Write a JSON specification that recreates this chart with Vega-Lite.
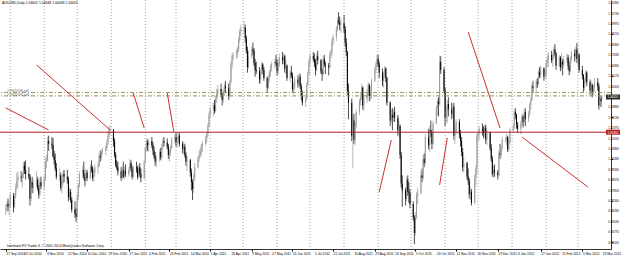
{
"$schema":"https://vega.github.io/schema/vega-lite/v6.json",
"width":611,"height":249,
"autosize":{"type":"none"},
"padding":{"left":0,"top":0,"right":14,"bottom":7},
"background":"white",
"config":{"view":{"stroke":null},"font":"Liberation Sans",
 "axis":{"labelOverlap":false,"labelFlush":false,"labelBound":false,"grid":false,"labelFont":"Liberation Sans","labelColor":"black","tickColor":"black","domainColor":"black","domainWidth":0.8},
 "axisX":{"labelFontSize":3.3,"labelAlign":"left","labelPadding":1,"tickSize":2},
 "axisY":{"labelFontSize":2.95,"labelPadding":0.5,"tickSize":1.5}},
"title":{"text":"AUDUSD,Daily  1.04602 1.04648 1.04448 1.04620","anchor":"start","frame":"group","orient":"top","offset":-5,"dx":2,"fontSize":3.4,"fontWeight":"normal","font":"Liberation Sans","color":"black"},
"datasets":{
"months":[{"d":"2010-10-01"},{"d":"2010-11-01"},{"d":"2010-12-01"},{"d":"2011-01-01"},{"d":"2011-02-01"},{"d":"2011-03-01"},{"d":"2011-04-01"},{"d":"2011-05-01"},{"d":"2011-06-01"},{"d":"2011-07-01"},{"d":"2011-08-01"},{"d":"2011-09-01"},{"d":"2011-10-01"},{"d":"2011-11-01"},{"d":"2011-12-01"},{"d":"2012-01-01"},{"d":"2012-02-01"},{"d":"2012-03-01"}],
"xticks":[{"d":"2010-09-27","label":"27 Sep 2010"},{"d":"2010-10-13","label":"13 Oct 2010"},{"d":"2010-11-03","label":"3 Nov 2010"},{"d":"2010-11-22","label":"22 Nov 2010"},{"d":"2010-12-10","label":"10 Dec 2010"},{"d":"2010-12-29","label":"29 Dec 2010"},{"d":"2011-01-17","label":"17 Jan 2011"},{"d":"2011-02-04","label":"4 Feb 2011"},{"d":"2011-02-23","label":"23 Feb 2011"},{"d":"2011-03-14","label":"14 Mar 2011"},{"d":"2011-04-01","label":"1 Apr 2011"},{"d":"2011-04-20","label":"20 Apr 2011"},{"d":"2011-05-09","label":"9 May 2011"},{"d":"2011-05-27","label":"27 May 2011"},{"d":"2011-06-15","label":"15 Jun 2011"},{"d":"2011-07-05","label":"5 Jul 2011"},{"d":"2011-07-22","label":"22 Jul 2011"},{"d":"2011-08-10","label":"10 Aug 2011"},{"d":"2011-08-29","label":"29 Aug 2011"},{"d":"2011-09-16","label":"16 Sep 2011"},{"d":"2011-10-05","label":"5 Oct 2011"},{"d":"2011-10-24","label":"24 Oct 2011"},{"d":"2011-11-11","label":"11 Nov 2011"},{"d":"2011-11-30","label":"30 Nov 2011"},{"d":"2011-12-19","label":"19 Dec 2011"},{"d":"2012-01-06","label":"6 Jan 2012"},{"d":"2012-01-27","label":"27 Jan 2012"},{"d":"2012-02-15","label":"15 Feb 2012"},{"d":"2012-03-05","label":"5 Mar 2012"},{"d":"2012-03-23","label":"23 Mar 2012"}],
"yticks":[{"p":1.1149},{"p":1.1073},{"p":1.0997},{"p":1.0921},{"p":1.0845},{"p":1.0769},{"p":1.0693},{"p":1.0617},{"p":1.0541},{"p":1.0389},{"p":1.0313},{"p":1.0237},{"p":1.0161},{"p":1.0085},{"p":1.0009},{"p":0.9933},{"p":0.9857},{"p":0.9781},{"p":0.9705},{"p":0.9629},{"p":0.9553},{"p":0.9477},{"p":0.9401}],
"levels":[{"kind":"support","p":1.0205,"label":""},{"kind":"order1","p":1.0495,"label":"#77670196 sell"},{"kind":"order2","p":1.0470,"label":"#77670195 sell"}],
"tags":[{"kind":"support","p":1.0205},{"kind":"bid","p":1.0462}],
"trend":[{"id":1,"d":"2010-09-27","p":1.0382},{"id":1,"d":"2010-11-05","p":1.0221},
{"id":2,"d":"2010-10-25","p":1.0696},{"id":2,"d":"2010-12-31","p":1.0221},
{"id":3,"d":"2011-01-21","p":1.0491},{"id":3,"d":"2011-01-31","p":1.0236},
{"id":4,"d":"2011-02-21","p":1.0491},{"id":4,"d":"2011-02-27","p":1.0207},
{"id":5,"d":"2011-09-02","p":0.9768},{"id":5,"d":"2011-09-13","p":1.0148},
{"id":6,"d":"2011-10-27","p":0.9820},{"id":6,"d":"2011-11-03","p":1.0163},
{"id":7,"d":"2011-11-22","p":1.0937},{"id":7,"d":"2011-12-21","p":1.0236},
{"id":8,"d":"2012-01-10","p":1.0170},{"id":8,"d":"2012-03-10","p":0.9805}],
"ohlc":[
{"d":"2010-09-27","o":0.9640,"h":0.9680,"l":0.9600,"c":0.9650},
{"d":"2010-09-28","o":0.9650,"h":0.9700,"l":0.9620,"c":0.9680},
{"d":"2010-09-29","o":0.9680,"h":0.9720,"l":0.9630,"c":0.9660},
{"d":"2010-09-30","o":0.9660,"h":0.9690,"l":0.9600,"c":0.9670},
{"d":"2010-10-01","o":0.9670,"h":0.9760,"l":0.9650,"c":0.9740},
{"d":"2010-10-04","o":0.9740,"h":0.9760,"l":0.9620,"c":0.9660},
{"d":"2010-10-05","o":0.9660,"h":0.9760,"l":0.9650,"c":0.9740},
{"d":"2010-10-06","o":0.9740,"h":0.9830,"l":0.9720,"c":0.9800},
{"d":"2010-10-07","o":0.9800,"h":0.9910,"l":0.9780,"c":0.9850},
{"d":"2010-10-08","o":0.9850,"h":0.9920,"l":0.9800,"c":0.9880},
{"d":"2010-10-11","o":0.9880,"h":0.9920,"l":0.9840,"c":0.9870},
{"d":"2010-10-12","o":0.9870,"h":0.9910,"l":0.9800,"c":0.9890},
{"d":"2010-10-13","o":0.9890,"h":0.9990,"l":0.9870,"c":0.9960},
{"d":"2010-10-14","o":0.9960,"h":0.9990,"l":0.9900,"c":0.9930},
{"d":"2010-10-15","o":0.9930,"h":1.0000,"l":0.9860,"c":0.9900},
{"d":"2010-10-18","o":0.9900,"h":0.9950,"l":0.9860,"c":0.9880},
{"d":"2010-10-19","o":0.9880,"h":0.9900,"l":0.9670,"c":0.9720},
{"d":"2010-10-20","o":0.9720,"h":0.9860,"l":0.9700,"c":0.9840},
{"d":"2010-10-21","o":0.9840,"h":0.9880,"l":0.9760,"c":0.9800},
{"d":"2010-10-22","o":0.9800,"h":0.9860,"l":0.9760,"c":0.9820},
{"d":"2010-10-25","o":0.9820,"h":0.9920,"l":0.9800,"c":0.9860},
{"d":"2010-10-26","o":0.9860,"h":0.9880,"l":0.9780,"c":0.9800},
{"d":"2010-10-27","o":0.9800,"h":0.9820,"l":0.9720,"c":0.9750},
{"d":"2010-10-28","o":0.9750,"h":0.9870,"l":0.9740,"c":0.9840},
{"d":"2010-10-29","o":0.9840,"h":0.9880,"l":0.9790,"c":0.9810},
{"d":"2010-11-01","o":0.9810,"h":0.9890,"l":0.9780,"c":0.9860},
{"d":"2010-11-02","o":0.9860,"h":1.0020,"l":0.9850,"c":0.9990},
{"d":"2010-11-03","o":0.9990,"h":1.0040,"l":0.9940,"c":1.0000},
{"d":"2010-11-04","o":1.0000,"h":1.0170,"l":0.9990,"c":1.0140},
{"d":"2010-11-05","o":1.0140,"h":1.0180,"l":1.0070,"c":1.0120},
{"d":"2010-11-08","o":1.0120,"h":1.0170,"l":1.0080,"c":1.0110},
{"d":"2010-11-09","o":1.0110,"h":1.0160,"l":1.0020,"c":1.0030},
{"d":"2010-11-10","o":1.0030,"h":1.0070,"l":0.9970,"c":1.0000},
{"d":"2010-11-11","o":1.0000,"h":1.0050,"l":0.9920,"c":0.9940},
{"d":"2010-11-12","o":0.9940,"h":0.9980,"l":0.9860,"c":0.9880},
{"d":"2010-11-15","o":0.9880,"h":0.9940,"l":0.9850,"c":0.9890},
{"d":"2010-11-16","o":0.9890,"h":0.9910,"l":0.9780,"c":0.9800},
{"d":"2010-11-17","o":0.9800,"h":0.9850,"l":0.9760,"c":0.9830},
{"d":"2010-11-18","o":0.9830,"h":0.9920,"l":0.9820,"c":0.9900},
{"d":"2010-11-19","o":0.9900,"h":0.9930,"l":0.9840,"c":0.9880},
{"d":"2010-11-22","o":0.9880,"h":0.9930,"l":0.9830,"c":0.9860},
{"d":"2010-11-23","o":0.9860,"h":0.9880,"l":0.9700,"c":0.9730},
{"d":"2010-11-24","o":0.9730,"h":0.9800,"l":0.9710,"c":0.9770},
{"d":"2010-11-25","o":0.9770,"h":0.9790,"l":0.9690,"c":0.9710},
{"d":"2010-11-26","o":0.9710,"h":0.9730,"l":0.9620,"c":0.9640},
{"d":"2010-11-29","o":0.9640,"h":0.9700,"l":0.9580,"c":0.9610},
{"d":"2010-11-30","o":0.9610,"h":0.9650,"l":0.9550,"c":0.9590},
{"d":"2010-12-01","o":0.9590,"h":0.9750,"l":0.9580,"c":0.9730},
{"d":"2010-12-02","o":0.9730,"h":0.9830,"l":0.9710,"c":0.9820},
{"d":"2010-12-03","o":0.9820,"h":0.9920,"l":0.9800,"c":0.9900},
{"d":"2010-12-06","o":0.9900,"h":0.9960,"l":0.9870,"c":0.9930},
{"d":"2010-12-07","o":0.9930,"h":0.9990,"l":0.9860,"c":0.9880},
{"d":"2010-12-08","o":0.9880,"h":0.9900,"l":0.9810,"c":0.9850},
{"d":"2010-12-09","o":0.9850,"h":0.9940,"l":0.9840,"c":0.9910},
{"d":"2010-12-10","o":0.9910,"h":0.9930,"l":0.9850,"c":0.9870},
{"d":"2010-12-13","o":0.9870,"h":0.9970,"l":0.9860,"c":0.9950},
{"d":"2010-12-14","o":0.9950,"h":1.0000,"l":0.9910,"c":0.9940},
{"d":"2010-12-15","o":0.9940,"h":0.9960,"l":0.9850,"c":0.9870},
{"d":"2010-12-16","o":0.9870,"h":0.9930,"l":0.9840,"c":0.9910},
{"d":"2010-12-17","o":0.9910,"h":0.9970,"l":0.9880,"c":0.9950},
{"d":"2010-12-20","o":0.9950,"h":0.9990,"l":0.9900,"c":0.9960},
{"d":"2010-12-21","o":0.9960,"h":1.0050,"l":0.9950,"c":1.0030},
{"d":"2010-12-22","o":1.0030,"h":1.0070,"l":0.9990,"c":1.0020},
{"d":"2010-12-23","o":1.0020,"h":1.0080,"l":1.0000,"c":1.0060},
{"d":"2010-12-24","o":1.0060,"h":1.0090,"l":1.0040,"c":1.0070},
{"d":"2010-12-27","o":1.0070,"h":1.0110,"l":1.0040,"c":1.0090},
{"d":"2010-12-28","o":1.0090,"h":1.0150,"l":1.0070,"c":1.0130},
{"d":"2010-12-29","o":1.0130,"h":1.0200,"l":1.0110,"c":1.0180},
{"d":"2010-12-30","o":1.0180,"h":1.0250,"l":1.0160,"c":1.0220},
{"d":"2010-12-31","o":1.0220,"h":1.0255,"l":1.0190,"c":1.0220},
{"d":"2011-01-03","o":1.0220,"h":1.0230,"l":1.0100,"c":1.0140},
{"d":"2011-01-04","o":1.0140,"h":1.0160,"l":1.0020,"c":1.0040},
{"d":"2011-01-05","o":1.0040,"h":1.0060,"l":0.9950,"c":0.9970},
{"d":"2011-01-06","o":0.9970,"h":1.0000,"l":0.9930,"c":0.9950},
{"d":"2011-01-07","o":0.9950,"h":0.9990,"l":0.9890,"c":0.9920},
{"d":"2011-01-10","o":0.9920,"h":0.9950,"l":0.9850,"c":0.9870},
{"d":"2011-01-11","o":0.9870,"h":0.9960,"l":0.9860,"c":0.9930},
{"d":"2011-01-12","o":0.9930,"h":0.9990,"l":0.9870,"c":0.9880},
{"d":"2011-01-13","o":0.9880,"h":0.9950,"l":0.9860,"c":0.9920},
{"d":"2011-01-14","o":0.9920,"h":0.9970,"l":0.9880,"c":0.9900},
{"d":"2011-01-17","o":0.9900,"h":0.9950,"l":0.9880,"c":0.9930},
{"d":"2011-01-18","o":0.9930,"h":1.0010,"l":0.9910,"c":0.9980},
{"d":"2011-01-19","o":0.9980,"h":1.0000,"l":0.9920,"c":0.9940},
{"d":"2011-01-20","o":0.9940,"h":0.9960,"l":0.9860,"c":0.9880},
{"d":"2011-01-21","o":0.9880,"h":0.9960,"l":0.9870,"c":0.9950},
{"d":"2011-01-24","o":0.9950,"h":0.9990,"l":0.9910,"c":0.9940},
{"d":"2011-01-25","o":0.9940,"h":0.9960,"l":0.9860,"c":0.9880},
{"d":"2011-01-26","o":0.9880,"h":0.9970,"l":0.9870,"c":0.9950},
{"d":"2011-01-27","o":0.9950,"h":0.9980,"l":0.9880,"c":0.9900},
{"d":"2011-01-28","o":0.9900,"h":0.9940,"l":0.9840,"c":0.9870},
{"d":"2011-01-31","o":0.9870,"h":1.0000,"l":0.9860,"c":0.9990},
{"d":"2011-02-01","o":0.9990,"h":1.0100,"l":0.9980,"c":1.0090},
{"d":"2011-02-02","o":1.0090,"h":1.0160,"l":1.0060,"c":1.0130},
{"d":"2011-02-03","o":1.0130,"h":1.0150,"l":1.0070,"c":1.0110},
{"d":"2011-02-04","o":1.0110,"h":1.0160,"l":1.0060,"c":1.0140},
{"d":"2011-02-07","o":1.0140,"h":1.0170,"l":1.0090,"c":1.0110},
{"d":"2011-02-08","o":1.0110,"h":1.0130,"l":1.0040,"c":1.0070},
{"d":"2011-02-09","o":1.0070,"h":1.0100,"l":1.0010,"c":1.0030},
{"d":"2011-02-10","o":1.0030,"h":1.0060,"l":0.9960,"c":0.9990},
{"d":"2011-02-11","o":0.9990,"h":1.0040,"l":0.9950,"c":1.0010},
{"d":"2011-02-14","o":1.0010,"h":1.0080,"l":0.9990,"c":1.0060},
{"d":"2011-02-15","o":1.0060,"h":1.0090,"l":1.0000,"c":1.0020},
{"d":"2011-02-16","o":1.0020,"h":1.0120,"l":1.0010,"c":1.0100},
{"d":"2011-02-17","o":1.0100,"h":1.0160,"l":1.0080,"c":1.0140},
{"d":"2011-02-18","o":1.0140,"h":1.0170,"l":1.0100,"c":1.0130},
{"d":"2011-02-21","o":1.0130,"h":1.0160,"l":1.0080,"c":1.0100},
{"d":"2011-02-22","o":1.0100,"h":1.0120,"l":1.0010,"c":1.0040},
{"d":"2011-02-23","o":1.0040,"h":1.0080,"l":0.9990,"c":1.0060},
{"d":"2011-02-24","o":1.0060,"h":1.0110,"l":1.0030,"c":1.0090},
{"d":"2011-02-25","o":1.0090,"h":1.0170,"l":1.0080,"c":1.0150},
{"d":"2011-02-28","o":1.0150,"h":1.0190,"l":1.0120,"c":1.0170},
{"d":"2011-03-01","o":1.0170,"h":1.0200,"l":1.0100,"c":1.0130},
{"d":"2011-03-02","o":1.0130,"h":1.0170,"l":1.0090,"c":1.0150},
{"d":"2011-03-03","o":1.0150,"h":1.0200,"l":1.0130,"c":1.0180},
{"d":"2011-03-04","o":1.0180,"h":1.0200,"l":1.0100,"c":1.0120},
{"d":"2011-03-07","o":1.0120,"h":1.0140,"l":1.0050,"c":1.0080},
{"d":"2011-03-08","o":1.0080,"h":1.0130,"l":1.0040,"c":1.0100},
{"d":"2011-03-09","o":1.0100,"h":1.0120,"l":1.0020,"c":1.0040},
{"d":"2011-03-10","o":1.0040,"h":1.0060,"l":0.9960,"c":0.9990},
{"d":"2011-03-11","o":0.9990,"h":1.0030,"l":0.9920,"c":1.0000},
{"d":"2011-03-14","o":1.0000,"h":1.0010,"l":0.9880,"c":0.9910},
{"d":"2011-03-15","o":0.9910,"h":0.9940,"l":0.9780,"c":0.9840},
{"d":"2011-03-16","o":0.9840,"h":0.9860,"l":0.9710,"c":0.9790},
{"d":"2011-03-17","o":0.9790,"h":0.9900,"l":0.9760,"c":0.9870},
{"d":"2011-03-18","o":0.9870,"h":0.9980,"l":0.9850,"c":0.9950},
{"d":"2011-03-21","o":0.9950,"h":1.0030,"l":0.9940,"c":1.0010},
{"d":"2011-03-22","o":1.0010,"h":1.0070,"l":0.9990,"c":1.0040},
{"d":"2011-03-23","o":1.0040,"h":1.0090,"l":1.0020,"c":1.0070},
{"d":"2011-03-24","o":1.0070,"h":1.0120,"l":1.0030,"c":1.0100},
{"d":"2011-03-25","o":1.0100,"h":1.0140,"l":1.0060,"c":1.0120},
{"d":"2011-03-28","o":1.0120,"h":1.0180,"l":1.0110,"c":1.0160},
{"d":"2011-03-29","o":1.0160,"h":1.0210,"l":1.0130,"c":1.0190},
{"d":"2011-03-30","o":1.0190,"h":1.0270,"l":1.0170,"c":1.0250},
{"d":"2011-03-31","o":1.0250,"h":1.0350,"l":1.0240,"c":1.0330},
{"d":"2011-04-01","o":1.0330,"h":1.0390,"l":1.0300,"c":1.0370},
{"d":"2011-04-04","o":1.0370,"h":1.0420,"l":1.0320,"c":1.0400},
{"d":"2011-04-05","o":1.0400,"h":1.0440,"l":1.0340,"c":1.0360},
{"d":"2011-04-06","o":1.0360,"h":1.0470,"l":1.0350,"c":1.0450},
{"d":"2011-04-07","o":1.0450,"h":1.0520,"l":1.0420,"c":1.0490},
{"d":"2011-04-08","o":1.0490,"h":1.0550,"l":1.0460,"c":1.0520},
{"d":"2011-04-11","o":1.0520,"h":1.0560,"l":1.0460,"c":1.0480},
{"d":"2011-04-12","o":1.0480,"h":1.0500,"l":1.0400,"c":1.0440},
{"d":"2011-04-13","o":1.0440,"h":1.0520,"l":1.0420,"c":1.0500},
{"d":"2011-04-14","o":1.0500,"h":1.0560,"l":1.0470,"c":1.0540},
{"d":"2011-04-15","o":1.0540,"h":1.0580,"l":1.0490,"c":1.0530},
{"d":"2011-04-18","o":1.0530,"h":1.0560,"l":1.0440,"c":1.0470},
{"d":"2011-04-19","o":1.0470,"h":1.0590,"l":1.0460,"c":1.0570},
{"d":"2011-04-20","o":1.0570,"h":1.0720,"l":1.0560,"c":1.0700},
{"d":"2011-04-21","o":1.0700,"h":1.0780,"l":1.0670,"c":1.0760},
{"d":"2011-04-22","o":1.0760,"h":1.0790,"l":1.0730,"c":1.0770},
{"d":"2011-04-25","o":1.0770,"h":1.0810,"l":1.0740,"c":1.0790},
{"d":"2011-04-26","o":1.0790,"h":1.0830,"l":1.0750,"c":1.0810},
{"d":"2011-04-27","o":1.0810,"h":1.0900,"l":1.0790,"c":1.0880},
{"d":"2011-04-28","o":1.0880,"h":1.0960,"l":1.0860,"c":1.0940},
{"d":"2011-04-29","o":1.0940,"h":1.0990,"l":1.0910,"c":1.0960},
{"d":"2011-05-02","o":1.0960,"h":1.1015,"l":1.0930,"c":1.0970},
{"d":"2011-05-03","o":1.0970,"h":1.0990,"l":1.0860,"c":1.0890},
{"d":"2011-05-04","o":1.0890,"h":1.0910,"l":1.0780,"c":1.0800},
{"d":"2011-05-05","o":1.0800,"h":1.0830,"l":1.0640,"c":1.0680},
{"d":"2011-05-06","o":1.0680,"h":1.0800,"l":1.0670,"c":1.0760},
{"d":"2011-05-09","o":1.0760,"h":1.0830,"l":1.0740,"c":1.0810},
{"d":"2011-05-10","o":1.0810,"h":1.0860,"l":1.0770,"c":1.0800},
{"d":"2011-05-11","o":1.0800,"h":1.0820,"l":1.0690,"c":1.0710},
{"d":"2011-05-12","o":1.0710,"h":1.0740,"l":1.0610,"c":1.0660},
{"d":"2011-05-13","o":1.0660,"h":1.0720,"l":1.0630,"c":1.0650},
{"d":"2011-05-16","o":1.0650,"h":1.0680,"l":1.0560,"c":1.0590},
{"d":"2011-05-17","o":1.0590,"h":1.0660,"l":1.0560,"c":1.0640},
{"d":"2011-05-18","o":1.0640,"h":1.0720,"l":1.0620,"c":1.0700},
{"d":"2011-05-19","o":1.0700,"h":1.0710,"l":1.0630,"c":1.0660},
{"d":"2011-05-20","o":1.0660,"h":1.0680,"l":1.0580,"c":1.0600},
{"d":"2011-05-23","o":1.0600,"h":1.0610,"l":1.0500,"c":1.0530},
{"d":"2011-05-24","o":1.0530,"h":1.0620,"l":1.0520,"c":1.0600},
{"d":"2011-05-25","o":1.0600,"h":1.0660,"l":1.0570,"c":1.0640},
{"d":"2011-05-26","o":1.0640,"h":1.0700,"l":1.0610,"c":1.0680},
{"d":"2011-05-27","o":1.0680,"h":1.0720,"l":1.0650,"c":1.0700},
{"d":"2011-05-30","o":1.0700,"h":1.0740,"l":1.0670,"c":1.0720},
{"d":"2011-05-31","o":1.0720,"h":1.0770,"l":1.0690,"c":1.0710},
{"d":"2011-06-01","o":1.0710,"h":1.0740,"l":1.0620,"c":1.0650},
{"d":"2011-06-02","o":1.0650,"h":1.0720,"l":1.0630,"c":1.0700},
{"d":"2011-06-03","o":1.0700,"h":1.0780,"l":1.0680,"c":1.0750},
{"d":"2011-06-06","o":1.0750,"h":1.0790,"l":1.0700,"c":1.0730},
{"d":"2011-06-07","o":1.0730,"h":1.0780,"l":1.0700,"c":1.0760},
{"d":"2011-06-08","o":1.0760,"h":1.0770,"l":1.0640,"c":1.0670},
{"d":"2011-06-09","o":1.0670,"h":1.0730,"l":1.0630,"c":1.0690},
{"d":"2011-06-10","o":1.0690,"h":1.0700,"l":1.0580,"c":1.0600},
{"d":"2011-06-13","o":1.0600,"h":1.0660,"l":1.0570,"c":1.0640},
{"d":"2011-06-14","o":1.0640,"h":1.0690,"l":1.0600,"c":1.0620},
{"d":"2011-06-15","o":1.0620,"h":1.0640,"l":1.0500,"c":1.0520},
{"d":"2011-06-16","o":1.0520,"h":1.0570,"l":1.0480,"c":1.0530},
{"d":"2011-06-17","o":1.0530,"h":1.0610,"l":1.0510,"c":1.0590},
{"d":"2011-06-20","o":1.0590,"h":1.0620,"l":1.0530,"c":1.0560},
{"d":"2011-06-21","o":1.0560,"h":1.0640,"l":1.0540,"c":1.0610},
{"d":"2011-06-22","o":1.0610,"h":1.0630,"l":1.0520,"c":1.0540},
{"d":"2011-06-23","o":1.0540,"h":1.0560,"l":1.0440,"c":1.0470},
{"d":"2011-06-24","o":1.0470,"h":1.0510,"l":1.0400,"c":1.0420},
{"d":"2011-06-27","o":1.0420,"h":1.0480,"l":1.0390,"c":1.0450},
{"d":"2011-06-28","o":1.0450,"h":1.0570,"l":1.0440,"c":1.0550},
{"d":"2011-06-29","o":1.0550,"h":1.0650,"l":1.0540,"c":1.0630},
{"d":"2011-06-30","o":1.0630,"h":1.0740,"l":1.0620,"c":1.0720},
{"d":"2011-07-01","o":1.0720,"h":1.0780,"l":1.0690,"c":1.0760},
{"d":"2011-07-04","o":1.0760,"h":1.0790,"l":1.0720,"c":1.0740},
{"d":"2011-07-05","o":1.0740,"h":1.0780,"l":1.0680,"c":1.0710},
{"d":"2011-07-06","o":1.0710,"h":1.0740,"l":1.0620,"c":1.0660},
{"d":"2011-07-07","o":1.0660,"h":1.0780,"l":1.0650,"c":1.0760},
{"d":"2011-07-08","o":1.0760,"h":1.0800,"l":1.0700,"c":1.0730},
{"d":"2011-07-11","o":1.0730,"h":1.0740,"l":1.0630,"c":1.0650},
{"d":"2011-07-12","o":1.0650,"h":1.0670,"l":1.0580,"c":1.0630},
{"d":"2011-07-13","o":1.0630,"h":1.0760,"l":1.0620,"c":1.0740},
{"d":"2011-07-14","o":1.0740,"h":1.0770,"l":1.0680,"c":1.0700},
{"d":"2011-07-15","o":1.0700,"h":1.0720,"l":1.0630,"c":1.0690},
{"d":"2011-07-18","o":1.0690,"h":1.0710,"l":1.0620,"c":1.0680},
{"d":"2011-07-19","o":1.0680,"h":1.0790,"l":1.0670,"c":1.0770},
{"d":"2011-07-20","o":1.0770,"h":1.0810,"l":1.0740,"c":1.0790},
{"d":"2011-07-21","o":1.0790,"h":1.0890,"l":1.0760,"c":1.0870},
{"d":"2011-07-22","o":1.0870,"h":1.0920,"l":1.0840,"c":1.0900},
{"d":"2011-07-25","o":1.0900,"h":1.0980,"l":1.0870,"c":1.0960},
{"d":"2011-07-26","o":1.0960,"h":1.1040,"l":1.0940,"c":1.1020},
{"d":"2011-07-27","o":1.1020,"h":1.1080,"l":1.0990,"c":1.1010},
{"d":"2011-07-28","o":1.1010,"h":1.1050,"l":1.0950,"c":1.0990},
{"d":"2011-07-29","o":1.0990,"h":1.1030,"l":1.0930,"c":1.1000},
{"d":"2011-08-01","o":1.1000,"h":1.1060,"l":1.0930,"c":1.0960},
{"d":"2011-08-02","o":1.0960,"h":1.0980,"l":1.0830,"c":1.0860},
{"d":"2011-08-03","o":1.0860,"h":1.0890,"l":1.0760,"c":1.0790},
{"d":"2011-08-04","o":1.0790,"h":1.0800,"l":1.0480,"c":1.0510},
{"d":"2011-08-05","o":1.0510,"h":1.0560,"l":1.0300,"c":1.0420},
{"d":"2011-08-08","o":1.0420,"h":1.0450,"l":1.0140,"c":1.0180},
{"d":"2011-08-09","o":1.0180,"h":1.0330,"l":0.9940,"c":1.0290},
{"d":"2011-08-10","o":1.0290,"h":1.0340,"l":1.0120,"c":1.0150},
{"d":"2011-08-11","o":1.0150,"h":1.0270,"l":1.0110,"c":1.0250},
{"d":"2011-08-12","o":1.0250,"h":1.0370,"l":1.0230,"c":1.0350},
{"d":"2011-08-15","o":1.0350,"h":1.0450,"l":1.0330,"c":1.0430},
{"d":"2011-08-16","o":1.0430,"h":1.0500,"l":1.0400,"c":1.0460},
{"d":"2011-08-17","o":1.0460,"h":1.0560,"l":1.0440,"c":1.0530},
{"d":"2011-08-18","o":1.0530,"h":1.0540,"l":1.0370,"c":1.0400},
{"d":"2011-08-19","o":1.0400,"h":1.0480,"l":1.0360,"c":1.0450},
{"d":"2011-08-22","o":1.0450,"h":1.0520,"l":1.0420,"c":1.0490},
{"d":"2011-08-23","o":1.0490,"h":1.0570,"l":1.0470,"c":1.0550},
{"d":"2011-08-24","o":1.0550,"h":1.0560,"l":1.0430,"c":1.0470},
{"d":"2011-08-25","o":1.0470,"h":1.0540,"l":1.0440,"c":1.0510},
{"d":"2011-08-26","o":1.0510,"h":1.0600,"l":1.0450,"c":1.0580},
{"d":"2011-08-29","o":1.0580,"h":1.0680,"l":1.0570,"c":1.0660},
{"d":"2011-08-30","o":1.0660,"h":1.0720,"l":1.0630,"c":1.0700},
{"d":"2011-08-31","o":1.0700,"h":1.0770,"l":1.0680,"c":1.0740},
{"d":"2011-09-01","o":1.0740,"h":1.0770,"l":1.0680,"c":1.0700},
{"d":"2011-09-02","o":1.0700,"h":1.0720,"l":1.0600,"c":1.0640},
{"d":"2011-09-05","o":1.0640,"h":1.0670,"l":1.0540,"c":1.0580},
{"d":"2011-09-06","o":1.0580,"h":1.0650,"l":1.0530,"c":1.0620},
{"d":"2011-09-07","o":1.0620,"h":1.0690,"l":1.0600,"c":1.0670},
{"d":"2011-09-08","o":1.0670,"h":1.0680,"l":1.0570,"c":1.0600},
{"d":"2011-09-09","o":1.0600,"h":1.0610,"l":1.0400,"c":1.0420},
{"d":"2011-09-12","o":1.0420,"h":1.0430,"l":1.0250,"c":1.0290},
{"d":"2011-09-13","o":1.0290,"h":1.0370,"l":1.0270,"c":1.0330},
{"d":"2011-09-14","o":1.0330,"h":1.0380,"l":1.0220,"c":1.0310},
{"d":"2011-09-15","o":1.0310,"h":1.0370,"l":1.0280,"c":1.0350},
{"d":"2011-09-16","o":1.0350,"h":1.0390,"l":1.0280,"c":1.0310},
{"d":"2011-09-19","o":1.0310,"h":1.0330,"l":1.0180,"c":1.0220},
{"d":"2011-09-20","o":1.0220,"h":1.0290,"l":1.0170,"c":1.0250},
{"d":"2011-09-21","o":1.0250,"h":1.0260,"l":1.0010,"c":1.0040},
{"d":"2011-09-22","o":1.0040,"h":1.0060,"l":0.9800,"c":0.9830},
{"d":"2011-09-23","o":0.9830,"h":0.9890,"l":0.9660,"c":0.9780},
{"d":"2011-09-26","o":0.9780,"h":0.9800,"l":0.9670,"c":0.9720},
{"d":"2011-09-27","o":0.9720,"h":0.9880,"l":0.9700,"c":0.9860},
{"d":"2011-09-28","o":0.9860,"h":0.9890,"l":0.9740,"c":0.9770},
{"d":"2011-09-29","o":0.9770,"h":0.9840,"l":0.9690,"c":0.9760},
{"d":"2011-09-30","o":0.9760,"h":0.9790,"l":0.9650,"c":0.9680},
{"d":"2011-10-03","o":0.9680,"h":0.9700,"l":0.9560,"c":0.9580},
{"d":"2011-10-04","o":0.9580,"h":0.9600,"l":0.9387,"c":0.9470},
{"d":"2011-10-05","o":0.9470,"h":0.9620,"l":0.9450,"c":0.9590},
{"d":"2011-10-06","o":0.9590,"h":0.9770,"l":0.9570,"c":0.9740},
{"d":"2011-10-07","o":0.9740,"h":0.9800,"l":0.9680,"c":0.9760},
{"d":"2011-10-10","o":0.9760,"h":0.9920,"l":0.9750,"c":0.9890},
{"d":"2011-10-11","o":0.9890,"h":0.9940,"l":0.9840,"c":0.9870},
{"d":"2011-10-12","o":0.9870,"h":1.0040,"l":0.9860,"c":1.0010},
{"d":"2011-10-13","o":1.0010,"h":1.0050,"l":0.9950,"c":0.9980},
{"d":"2011-10-14","o":0.9980,"h":1.0190,"l":0.9970,"c":1.0170},
{"d":"2011-10-17","o":1.0170,"h":1.0230,"l":1.0080,"c":1.0110},
{"d":"2011-10-18","o":1.0110,"h":1.0250,"l":1.0060,"c":1.0220},
{"d":"2011-10-19","o":1.0220,"h":1.0290,"l":1.0170,"c":1.0200},
{"d":"2011-10-20","o":1.0200,"h":1.0220,"l":1.0080,"c":1.0120},
{"d":"2011-10-21","o":1.0120,"h":1.0290,"l":1.0110,"c":1.0270},
{"d":"2011-10-24","o":1.0270,"h":1.0400,"l":1.0260,"c":1.0380},
{"d":"2011-10-25","o":1.0380,"h":1.0450,"l":1.0330,"c":1.0430},
{"d":"2011-10-26","o":1.0430,"h":1.0460,"l":1.0320,"c":1.0410},
{"d":"2011-10-27","o":1.0410,"h":1.0765,"l":1.0400,"c":1.0720},
{"d":"2011-10-28","o":1.0720,"h":1.0760,"l":1.0630,"c":1.0660},
{"d":"2011-10-31","o":1.0660,"h":1.0680,"l":1.0490,"c":1.0510},
{"d":"2011-11-01","o":1.0510,"h":1.0530,"l":1.0250,"c":1.0310},
{"d":"2011-11-02","o":1.0310,"h":1.0390,"l":1.0280,"c":1.0360},
{"d":"2011-11-03","o":1.0360,"h":1.0440,"l":1.0270,"c":1.0410},
{"d":"2011-11-04","o":1.0410,"h":1.0460,"l":1.0320,"c":1.0370},
{"d":"2011-11-07","o":1.0370,"h":1.0420,"l":1.0300,"c":1.0340},
{"d":"2011-11-08","o":1.0340,"h":1.0410,"l":1.0310,"c":1.0390},
{"d":"2011-11-09","o":1.0390,"h":1.0420,"l":1.0150,"c":1.0180},
{"d":"2011-11-10","o":1.0180,"h":1.0240,"l":1.0120,"c":1.0200},
{"d":"2011-11-11","o":1.0200,"h":1.0300,"l":1.0190,"c":1.0280},
{"d":"2011-11-14","o":1.0280,"h":1.0300,"l":1.0160,"c":1.0190},
{"d":"2011-11-15","o":1.0190,"h":1.0220,"l":1.0100,"c":1.0140},
{"d":"2011-11-16","o":1.0140,"h":1.0170,"l":1.0030,"c":1.0060},
{"d":"2011-11-17","o":1.0060,"h":1.0090,"l":0.9920,"c":0.9950},
{"d":"2011-11-18","o":0.9950,"h":1.0020,"l":0.9910,"c":0.9980},
{"d":"2011-11-21","o":0.9980,"h":0.9990,"l":0.9860,"c":0.9880},
{"d":"2011-11-22","o":0.9880,"h":0.9940,"l":0.9820,"c":0.9850},
{"d":"2011-11-23","o":0.9850,"h":0.9870,"l":0.9720,"c":0.9750},
{"d":"2011-11-24","o":0.9750,"h":0.9810,"l":0.9710,"c":0.9770},
{"d":"2011-11-25","o":0.9770,"h":0.9790,"l":0.9670,"c":0.9690},
{"d":"2011-11-28","o":0.9690,"h":0.9900,"l":0.9680,"c":0.9870},
{"d":"2011-11-29","o":0.9870,"h":0.9960,"l":0.9820,"c":0.9940},
{"d":"2011-11-30","o":0.9940,"h":1.0200,"l":0.9900,"c":1.0180},
{"d":"2011-12-01","o":1.0180,"h":1.0220,"l":1.0140,"c":1.0190},
{"d":"2011-12-02","o":1.0190,"h":1.0250,"l":1.0150,"c":1.0230},
{"d":"2011-12-05","o":1.0230,"h":1.0270,"l":1.0180,"c":1.0220},
{"d":"2011-12-06","o":1.0220,"h":1.0250,"l":1.0160,"c":1.0200},
{"d":"2011-12-07","o":1.0200,"h":1.0260,"l":1.0170,"c":1.0240},
{"d":"2011-12-08","o":1.0240,"h":1.0260,"l":1.0120,"c":1.0150},
{"d":"2011-12-09","o":1.0150,"h":1.0220,"l":1.0110,"c":1.0200},
{"d":"2011-12-12","o":1.0200,"h":1.0210,"l":1.0070,"c":1.0090},
{"d":"2011-12-13","o":1.0090,"h":1.0120,"l":0.9990,"c":1.0010},
{"d":"2011-12-14","o":1.0010,"h":1.0030,"l":0.9880,"c":0.9900},
{"d":"2011-12-15","o":0.9900,"h":0.9960,"l":0.9870,"c":0.9930},
{"d":"2011-12-16","o":0.9930,"h":0.9970,"l":0.9880,"c":0.9910},
{"d":"2011-12-19","o":0.9910,"h":0.9930,"l":0.9860,"c":0.9890},
{"d":"2011-12-20","o":0.9890,"h":1.0070,"l":0.9880,"c":1.0050},
{"d":"2011-12-21","o":1.0050,"h":1.0120,"l":1.0010,"c":1.0040},
{"d":"2011-12-22","o":1.0040,"h":1.0110,"l":1.0020,"c":1.0090},
{"d":"2011-12-23","o":1.0090,"h":1.0170,"l":1.0070,"c":1.0150},
{"d":"2011-12-26","o":1.0150,"h":1.0170,"l":1.0130,"c":1.0150},
{"d":"2011-12-27","o":1.0150,"h":1.0190,"l":1.0110,"c":1.0170},
{"d":"2011-12-28","o":1.0170,"h":1.0180,"l":1.0060,"c":1.0080},
{"d":"2011-12-29","o":1.0080,"h":1.0150,"l":1.0060,"c":1.0130},
{"d":"2011-12-30","o":1.0130,"h":1.0240,"l":1.0120,"c":1.0220},
{"d":"2012-01-02","o":1.0220,"h":1.0260,"l":1.0200,"c":1.0240},
{"d":"2012-01-03","o":1.0240,"h":1.0370,"l":1.0230,"c":1.0350},
{"d":"2012-01-04","o":1.0350,"h":1.0380,"l":1.0300,"c":1.0330},
{"d":"2012-01-05","o":1.0330,"h":1.0340,"l":1.0230,"c":1.0260},
{"d":"2012-01-06","o":1.0260,"h":1.0280,"l":1.0200,"c":1.0230},
{"d":"2012-01-09","o":1.0230,"h":1.0290,"l":1.0190,"c":1.0270},
{"d":"2012-01-10","o":1.0270,"h":1.0340,"l":1.0250,"c":1.0320},
{"d":"2012-01-11","o":1.0320,"h":1.0330,"l":1.0240,"c":1.0280},
{"d":"2012-01-12","o":1.0280,"h":1.0370,"l":1.0270,"c":1.0350},
{"d":"2012-01-13","o":1.0350,"h":1.0380,"l":1.0250,"c":1.0300},
{"d":"2012-01-16","o":1.0300,"h":1.0360,"l":1.0280,"c":1.0340},
{"d":"2012-01-17","o":1.0340,"h":1.0420,"l":1.0320,"c":1.0400},
{"d":"2012-01-18","o":1.0400,"h":1.0460,"l":1.0370,"c":1.0440},
{"d":"2012-01-19","o":1.0440,"h":1.0560,"l":1.0430,"c":1.0540},
{"d":"2012-01-20","o":1.0540,"h":1.0580,"l":1.0490,"c":1.0530},
{"d":"2012-01-23","o":1.0530,"h":1.0590,"l":1.0500,"c":1.0570},
{"d":"2012-01-24","o":1.0570,"h":1.0600,"l":1.0530,"c":1.0560},
{"d":"2012-01-25","o":1.0560,"h":1.0660,"l":1.0550,"c":1.0640},
{"d":"2012-01-26","o":1.0640,"h":1.0680,"l":1.0600,"c":1.0620},
{"d":"2012-01-27","o":1.0620,"h":1.0690,"l":1.0600,"c":1.0670},
{"d":"2012-01-30","o":1.0670,"h":1.0680,"l":1.0580,"c":1.0610},
{"d":"2012-01-31","o":1.0610,"h":1.0660,"l":1.0590,"c":1.0630},
{"d":"2012-02-01","o":1.0630,"h":1.0730,"l":1.0610,"c":1.0710},
{"d":"2012-02-02","o":1.0710,"h":1.0760,"l":1.0680,"c":1.0740},
{"d":"2012-02-03","o":1.0740,"h":1.0790,"l":1.0680,"c":1.0770},
{"d":"2012-02-06","o":1.0770,"h":1.0800,"l":1.0710,"c":1.0730},
{"d":"2012-02-07","o":1.0730,"h":1.0780,"l":1.0680,"c":1.0750},
{"d":"2012-02-08","o":1.0750,"h":1.0830,"l":1.0740,"c":1.0810},
{"d":"2012-02-09","o":1.0810,"h":1.0850,"l":1.0760,"c":1.0780},
{"d":"2012-02-10","o":1.0780,"h":1.0790,"l":1.0660,"c":1.0690},
{"d":"2012-02-13","o":1.0690,"h":1.0770,"l":1.0680,"c":1.0750},
{"d":"2012-02-14","o":1.0750,"h":1.0760,"l":1.0650,"c":1.0680},
{"d":"2012-02-15","o":1.0680,"h":1.0780,"l":1.0660,"c":1.0720},
{"d":"2012-02-16","o":1.0720,"h":1.0740,"l":1.0620,"c":1.0700},
{"d":"2012-02-17","o":1.0700,"h":1.0760,"l":1.0680,"c":1.0730},
{"d":"2012-02-20","o":1.0730,"h":1.0780,"l":1.0710,"c":1.0750},
{"d":"2012-02-21","o":1.0750,"h":1.0770,"l":1.0660,"c":1.0690},
{"d":"2012-02-22","o":1.0690,"h":1.0720,"l":1.0620,"c":1.0650},
{"d":"2012-02-23","o":1.0650,"h":1.0760,"l":1.0640,"c":1.0740},
{"d":"2012-02-24","o":1.0740,"h":1.0800,"l":1.0720,"c":1.0780},
{"d":"2012-02-27","o":1.0780,"h":1.0810,"l":1.0720,"c":1.0760},
{"d":"2012-02-28","o":1.0760,"h":1.0830,"l":1.0740,"c":1.0810},
{"d":"2012-02-29","o":1.0810,"h":1.0856,"l":1.0710,"c":1.0740},
{"d":"2012-03-01","o":1.0740,"h":1.0800,"l":1.0690,"c":1.0770},
{"d":"2012-03-02","o":1.0770,"h":1.0780,"l":1.0640,"c":1.0660},
{"d":"2012-03-05","o":1.0660,"h":1.0690,"l":1.0590,"c":1.0620},
{"d":"2012-03-06","o":1.0620,"h":1.0630,"l":1.0500,"c":1.0530},
{"d":"2012-03-07","o":1.0530,"h":1.0600,"l":1.0510,"c":1.0580},
{"d":"2012-03-08","o":1.0580,"h":1.0660,"l":1.0560,"c":1.0640},
{"d":"2012-03-09","o":1.0640,"h":1.0650,"l":1.0540,"c":1.0570},
{"d":"2012-03-12","o":1.0570,"h":1.0590,"l":1.0480,"c":1.0510},
{"d":"2012-03-13","o":1.0510,"h":1.0580,"l":1.0470,"c":1.0550},
{"d":"2012-03-14","o":1.0550,"h":1.0560,"l":1.0460,"c":1.0490},
{"d":"2012-03-15","o":1.0490,"h":1.0550,"l":1.0470,"c":1.0530},
{"d":"2012-03-16","o":1.0530,"h":1.0600,"l":1.0500,"c":1.0570},
{"d":"2012-03-19","o":1.0570,"h":1.0600,"l":1.0510,"c":1.0540},
{"d":"2012-03-20","o":1.0540,"h":1.0560,"l":1.0370,"c":1.0400},
{"d":"2012-03-21","o":1.0400,"h":1.0480,"l":1.0390,"c":1.0450},
{"d":"2012-03-22","o":1.0450,"h":1.0470,"l":1.0390,"c":1.0430},
{"d":"2012-03-23","o":1.0460,"h":1.0465,"l":1.0445,"c":1.0462}
]},
"layer":[
{"data":{"name":"months"},
 "mark":{"type":"rule","stroke":"#8c8c8c","strokeDash":[1,2],"strokeWidth":0.8},
 "encoding":{"x":{"field":"d","type":"temporal","scale":{"type":"utc","domain":[{"year":2010,"month":"Sep","date":26,"hours":6,"utc":true},{"year":2012,"month":"Mar","date":26,"hours":12,"utc":true}]},"axis":{"title":null,"labels":false}}}},
{"data":{"name":"ohlc"},
 "mark":{"type":"rule","strokeWidth":0.7},
 "encoding":{
  "x":{"field":"d","type":"temporal","scale":{"type":"utc","domain":[{"year":2010,"month":"Sep","date":26,"hours":6,"utc":true},{"year":2012,"month":"Mar","date":26,"hours":12,"utc":true}]},
   "axis":{"title":null,"grid":false,"labels":false,"values":[{"year":2010,"month":"Sep","date":27,"utc":true},{"year":2010,"month":"Oct","date":13,"utc":true},{"year":2010,"month":"Nov","date":3,"utc":true},{"year":2010,"month":"Nov","date":22,"utc":true},{"year":2010,"month":"Dec","date":10,"utc":true},{"year":2010,"month":"Dec","date":29,"utc":true},{"year":2011,"month":"Jan","date":17,"utc":true},{"year":2011,"month":"Feb","date":4,"utc":true},{"year":2011,"month":"Feb","date":23,"utc":true},{"year":2011,"month":"Mar","date":14,"utc":true},{"year":2011,"month":"Apr","date":1,"utc":true},{"year":2011,"month":"Apr","date":20,"utc":true},{"year":2011,"month":"May","date":9,"utc":true},{"year":2011,"month":"May","date":27,"utc":true},{"year":2011,"month":"Jun","date":15,"utc":true},{"year":2011,"month":"Jul","date":5,"utc":true},{"year":2011,"month":"Jul","date":22,"utc":true},{"year":2011,"month":"Aug","date":10,"utc":true},{"year":2011,"month":"Aug","date":29,"utc":true},{"year":2011,"month":"Sep","date":16,"utc":true},{"year":2011,"month":"Oct","date":5,"utc":true},{"year":2011,"month":"Oct","date":24,"utc":true},{"year":2011,"month":"Nov","date":11,"utc":true},{"year":2011,"month":"Nov","date":30,"utc":true},{"year":2011,"month":"Dec","date":19,"utc":true},{"year":2012,"month":"Jan","date":6,"utc":true},{"year":2012,"month":"Jan","date":27,"utc":true},{"year":2012,"month":"Feb","date":15,"utc":true},{"year":2012,"month":"Mar","date":5,"utc":true},{"year":2012,"month":"Mar","date":23,"utc":true}]}},
  "y":{"field":"l","type":"quantitative","scale":{"domain":[0.93524,1.11701],"zero":false,"nice":false},
   "axis":{"title":null,"orient":"right","grid":false,"labels":false,"values":[1.1149,1.1073,1.0997,1.0921,1.0845,1.0769,1.0693,1.0617,1.0541,1.0465,1.0389,1.0313,1.0237,1.0161,1.0085,1.0009,0.9933,0.9857,0.9781,0.9705,0.9629,0.9553,0.9477,0.9401]}},
  "y2":{"field":"h"},
  "color":{"condition":{"test":"datum.o <= datum.c","value":"#9a9a9a"},"value":"#000000"}}},
{"data":{"name":"ohlc"},
 "mark":{"type":"bar","width":1},
 "encoding":{
  "x":{"field":"d","type":"temporal","scale":{"type":"utc","domain":[{"year":2010,"month":"Sep","date":26,"hours":6,"utc":true},{"year":2012,"month":"Mar","date":26,"hours":12,"utc":true}]},"axis":{"title":null,"labels":false}},
  "y":{"field":"o","type":"quantitative","scale":{"domain":[0.93524,1.11701],"zero":false,"nice":false},"axis":{"title":null,"orient":"right","labels":false}},
  "y2":{"field":"c"},
  "color":{"condition":{"test":"datum.o <= datum.c","value":"#9a9a9a"},"value":"#000000"}}},
{"data":{"name":"levels"},
 "mark":{"type":"rule","strokeWidth":1},
 "encoding":{
  "y":{"field":"p","type":"quantitative","scale":{"domain":[0.93524,1.11701],"zero":false,"nice":false},"axis":{"title":null,"orient":"right","labels":false}},
  "stroke":{"field":"kind","type":"nominal","scale":{"domain":["support","order1","order2"],"range":["#b01e1e","#9a9a55","#a08a50"]},"legend":null},
  "strokeDash":{"field":"kind","type":"nominal","scale":{"domain":["support","order1","order2"],"range":[[1,0],[4,2,1,2],[4,2,1,2]]},"legend":null}}},
{"data":{"name":"trend"},
 "mark":{"type":"line","stroke":"#c83232","strokeWidth":1},
 "encoding":{
  "x":{"field":"d","type":"temporal","scale":{"type":"utc","domain":[{"year":2010,"month":"Sep","date":26,"hours":6,"utc":true},{"year":2012,"month":"Mar","date":26,"hours":12,"utc":true}]},"axis":{"title":null,"labels":false}},
  "y":{"field":"p","type":"quantitative","scale":{"domain":[0.93524,1.11701],"zero":false,"nice":false},"axis":{"title":null,"orient":"right","labels":false}},
  "detail":{"field":"id","type":"nominal"}}},
{"data":{"name":"levels"},
 "transform":[{"filter":"datum.kind != 'support'"}],
 "mark":{"type":"text","align":"left","baseline":"bottom","dx":2,"dy":0.5,"fontSize":3.2,"font":"Liberation Sans","color":"#555555"},
 "encoding":{
  "x":{"datum":{"year":2010,"month":"Sep","date":26,"hours":6,"utc":true},"type":"temporal","axis":{"title":null,"labels":false}},
  "y":{"field":"p","type":"quantitative","axis":{"title":null,"orient":"right","labels":false}},
  "text":{"field":"label"}}},
{"data":{"values":[{"t":"Interbank FX Trader 4, © 2001-2014 MetaQuotes Software Corp."}]},
 "mark":{"type":"text","align":"left","baseline":"bottom","dx":2,"dy":-1,"fontSize":3.4,"font":"Liberation Sans","color":"black"},
 "encoding":{
  "x":{"datum":{"year":2010,"month":"Sep","date":26,"hours":6,"utc":true},"type":"temporal","axis":{"title":null,"labels":false}},
  "y":{"datum":0.93524,"type":"quantitative","axis":{"title":null,"orient":"right","labels":false}},
  "text":{"field":"t"}}},
{"data":{"name":"xticks"},
 "mark":{"type":"text","align":"left","baseline":"top","dx":0.5,"dy":2.6,"fontSize":3.3,"font":"Liberation Sans","color":"black","clip":false},
 "encoding":{
  "x":{"field":"d","type":"temporal","axis":{"title":null,"labels":false}},
  "y":{"datum":0.93524,"type":"quantitative","axis":{"title":null,"orient":"right","labels":false}},
  "text":{"field":"label"}}},
{"data":{"name":"yticks"},
 "mark":{"type":"text","align":"left","baseline":"middle","dx":2.2,"fontSize":2.95,"font":"Liberation Sans","color":"black","clip":false},
 "encoding":{
  "x":{"datum":{"year":2012,"month":"Mar","date":26,"hours":12,"utc":true},"type":"temporal","axis":{"title":null,"labels":false}},
  "y":{"field":"p","type":"quantitative","axis":{"title":null,"orient":"right","labels":false}},
  "text":{"field":"p","type":"quantitative","format":".5f"}}},
{"data":{"name":"tags"},
 "mark":{"type":"rect","clip":false,"x2Offset":14,"yOffset":-2.5,"y2Offset":2.5},
 "encoding":{
  "x":{"datum":{"year":2012,"month":"Mar","date":26,"hours":12,"utc":true},"type":"temporal","axis":{"title":null,"labels":false}},
  "x2":{"datum":{"year":2012,"month":"Mar","date":26,"hours":12,"utc":true}},
  "y":{"field":"p","type":"quantitative","axis":{"title":null,"orient":"right","labels":false}},
  "y2":{"field":"p"},
  "fill":{"field":"kind","type":"nominal","scale":{"domain":["support","bid"],"range":["#b01e1e","#2a2a2a"]},"legend":null}}},
{"data":{"name":"tags"},
 "mark":{"type":"text","align":"left","baseline":"middle","dx":1.5,"fontSize":2.95,"font":"Liberation Sans","color":"white","clip":false},
 "encoding":{
  "x":{"datum":{"year":2012,"month":"Mar","date":26,"hours":12,"utc":true},"type":"temporal","axis":{"title":null,"labels":false}},
  "y":{"field":"p","type":"quantitative","axis":{"title":null,"orient":"right","labels":false}},
  "text":{"field":"p","type":"quantitative","format":".5f"}}}
]
}
